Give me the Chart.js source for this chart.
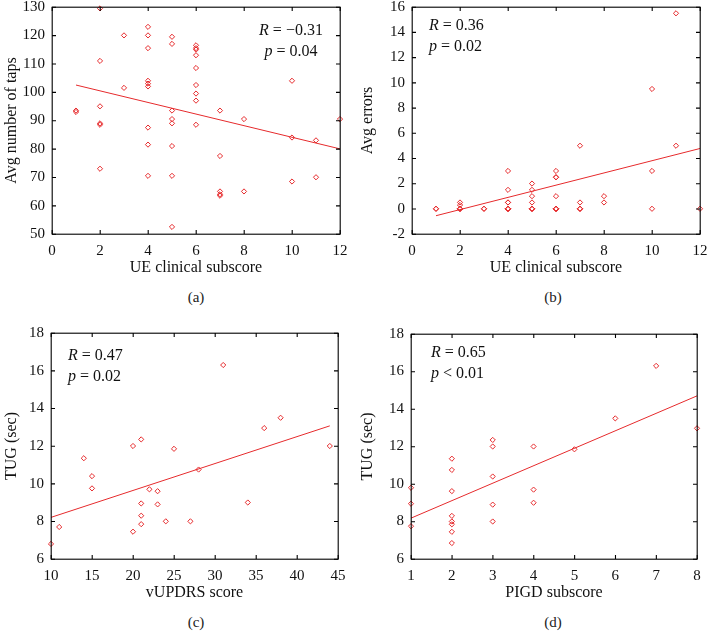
<!DOCTYPE html>
<html>
<head>
<meta charset="utf-8">
<script src="https://cdn.jsdelivr.net/npm/chart.js@4.4.0/dist/chart.umd.min.js"></script>
<style>
  body { margin: 0; background: #fff; width: 708px; height: 633px; position: relative; overflow: hidden; }
  canvas { position: absolute; }
  .cap { position: absolute; transform: translate(-50%, -50%); font-family: "Liberation Serif", serif; font-size: 15px; color: #222; }
</style>
</head>
<body>
<canvas id="cA" width="354" height="285" style="left:0;top:0"></canvas>
<canvas id="cB" width="354" height="285" style="left:354px;top:0"></canvas>
<canvas id="cC" width="354" height="285" style="left:0;top:326px"></canvas>
<canvas id="cD" width="354" height="285" style="left:354px;top:326px"></canvas>
<div class="cap" style="left:196px;top:297px">(a)</div>
<div class="cap" style="left:553px;top:297px">(b)</div>
<div class="cap" style="left:196px;top:622px">(c)</div>
<div class="cap" style="left:553px;top:622px">(d)</div>
<script>
// (a) UE clinical subscore vs avg number of taps
var ueX = [1, 1, 2, 2, 2, 2, 2, 2, 3, 3,
  4, 4, 4, 4, 4, 4, 4, 4, 4,
  5, 5, 5, 5, 5, 5, 5, 5,
  6, 6, 6, 6, 6, 6, 6, 6, 6,
  7, 7, 7, 7, 7, 8, 8, 10, 10, 10, 11, 11, 12];
var tapsY = [93.5, 93, 129.5, 111, 95, 89, 88.5, 73, 120, 101.5,
  123, 120, 115.5, 104, 103, 102, 87.5, 81.5, 70.5,
  119.5, 117, 93.5, 90.5, 89, 81, 70.5, 52.5,
  116.5, 115.5, 115, 113, 108.5, 102.5, 99.5, 97, 88.5,
  93.5, 77.5, 65, 64, 63.5, 90.5, 65, 104, 84, 68.5, 83, 70, 90.5];
var tapsFitX = [1, 12];
var tapsFitY = [102.5, 80];

// (b) UE clinical subscore vs avg errors
var errorsY = [0, 0, 0.5, 0.3, 0, 0, 0, 0, 0, 0,
  3, 1.5, 0.5, 0.5, 0, 0, 0, 0, 0,
  2, 1.5, 1, 0.5, 0, 0, 0, 0,
  3, 2.5, 2.5, 1, 0, 0, 0, 0, 0,
  5, 0.5, 0, 0, 0, 1, 0.5, 9.5, 3, 0, 15.5, 5, 0];
var errorsFitX = [1, 12];
var errorsFitY = [-0.55, 4.78];

// (c) vUPDRS score vs TUG
var updrsX = [10, 11, 14, 15, 15, 20, 20, 21, 21, 21, 21, 22, 23, 23, 24, 25, 27, 28, 31, 34, 36, 38, 44];
var tugC = [6.8, 7.7, 11.35, 10.4, 9.75, 12, 7.45, 12.35, 8.95, 8.3, 7.85, 9.7, 9.6, 8.9, 8.0, 11.85, 8.0, 10.75, 16.3, 9.0, 12.95, 13.5, 12.0];
var updrsFitX = [10, 44];
var updrsFitY = [8.21, 13.07];

// (d) PIGD subscore vs TUG
var pigdX = [1, 1, 1, 2, 2, 2, 2, 2, 2, 2, 2, 3, 3, 3, 3, 3, 4, 4, 4, 5, 6, 7, 8];
var tugD = [9.8, 8.95, 7.75, 11.35, 10.75, 9.62, 8.3, 8.0, 7.85, 7.45, 6.85, 12.35, 12.0, 10.4, 8.9, 8.0, 12.0, 9.7, 9.0, 11.85, 13.5, 16.3, 12.97];
var pigdFitX = [1, 8];
var pigdFitY = [8.18, 14.7];

var RED = "#e62a2c";
var SERIF = "'Liberation Serif', 'Times New Roman', serif";

function pares(xs, ys) {
  var out = [];
  for (var i = 0; i < xs.length; i++) out.push({x: xs[i], y: ys[i]});
  return out;
}

// frame with inward ticks (not pixel-snapped) and the R / p text
var moldura = {
  id: "moldura",
  afterDraw: function (chart) {
    var c = chart.ctx, a = chart.chartArea, t = 4;
    var sx = chart.scales.x, sy = chart.scales.y;
    c.save();
    c.setLineDash([]);
    c.strokeStyle = "#000";
    c.lineWidth = 1.1;
    c.strokeRect(a.left + 0.2, a.top + 0.2, a.right - a.left, a.bottom - a.top);
    c.beginPath();
    for (var i = 0; i < sx.ticks.length; i++) {
      var px = sx.getPixelForValue(sx.ticks[i].value) + 0.2;
      c.moveTo(px, a.bottom); c.lineTo(px, a.bottom - t);
      c.moveTo(px, a.top); c.lineTo(px, a.top + t);
    }
    for (var j = 0; j < sy.ticks.length; j++) {
      var py = sy.getPixelForValue(sy.ticks[j].value) + 0.2;
      c.moveTo(a.left, py); c.lineTo(a.left + t, py);
      c.moveTo(a.right, py); c.lineTo(a.right - t, py);
    }
    c.stroke();

    var o = chart.options.plugins.moldura;
    c.fillStyle = "#111";
    c.textBaseline = "middle";
    var linhas = [[o.letra1, o.resto1, o.dy1], [o.letra2, o.resto2, o.dy2]];
    for (var k = 0; k < linhas.length; k++) {
      var ln = linhas[k];
      c.font = "italic 16px " + SERIF;
      var w1 = c.measureText(ln[0]).width;
      c.font = "16px " + SERIF;
      var w2 = c.measureText(ln[1]).width;
      var x0 = a.left + o.dx;
      if (o.centro) x0 = a.left + o.dx - (w1 + w2) / 2;
      c.font = "italic 16px " + SERIF;
      c.fillText(ln[0], x0, a.top + ln[2]);
      c.font = "16px " + SERIF;
      c.fillText(ln[1], x0 + w1, a.top + ln[2]);
    }
    c.restore();
  }
};

function semPadding(s) {
  s.paddingTop = 0; s.paddingBottom = 0; s.paddingLeft = 0; s.paddingRight = 0;
}

function fixarTicks(lista) {
  return function (s) { s.ticks = lista.map(function (v) { return {value: v}; }); };
}

function montarGrafico(id, cfg) {
  var ctx = document.getElementById(id).getContext("2d");
  return new Chart(ctx, {
    type: "scatter",
    data: {
      datasets: [{
        data: pares(cfg.xs, cfg.ys),
        pointStyle: "rectRot",
        pointRadius: 2.6,
        pointHoverRadius: 2.6,
        borderColor: RED,
        backgroundColor: "rgba(0,0,0,0)",
        borderWidth: 1,
        clip: false
      }, {
        type: "line",
        data: pares(cfg.fitX, cfg.fitY),
        borderColor: RED,
        borderWidth: 1,
        pointRadius: 0,
        fill: false,
        clip: false
      }]
    },
    options: {
      responsive: false,
      animation: false,
      layout: { padding: { top: cfg.padTop, right: cfg.padRight, left: 0, bottom: 0 } },
      plugins: {
        legend: { display: false },
        tooltip: { enabled: false },
        moldura: cfg.anot
      },
      scales: {
        x: {
          type: "linear",
          min: cfg.xMin, max: cfg.xMax,
          afterFit: function (s) { s.height = cfg.xH; semPadding(s); },
          afterBuildTicks: fixarTicks(cfg.xTicks),
          grid: { display: false, drawTicks: false },
          border: { display: false },
          ticks: { color: "#111", padding: 8, maxRotation: 0, autoSkip: false, font: { family: SERIF, size: 15 } },
          title: { display: true, text: cfg.xTitle, color: "#111", padding: { top: 0, bottom: cfg.xTitlePad }, font: { family: SERIF, size: 16 } }
        },
        y: {
          type: "linear",
          min: cfg.yMin, max: cfg.yMax,
          afterFit: function (s) { s.width = cfg.yW; semPadding(s); },
          afterBuildTicks: fixarTicks(cfg.yTicks),
          grid: { display: false, drawTicks: false },
          border: { display: false },
          ticks: { color: "#111", padding: 7, autoSkip: false, font: { family: SERIF, size: 15 } },
          title: { display: true, text: cfg.yTitle, color: "#111", padding: { top: cfg.yTitlePad, bottom: 0 }, font: { family: SERIF, size: 16 } }
        }
      }
    },
    plugins: [moldura]
  });
}

window.onload = function () {
  montarGrafico("cA", {
    xs: ueX, ys: tapsY, fitX: tapsFitX, fitY: tapsFitY,
    xMin: 0, xMax: 12, xTicks: [0, 2, 4, 6, 8, 10, 12],
    yMin: 50, yMax: 130, yTicks: [50, 60, 70, 80, 90, 100, 110, 120, 130],
    xTitle: "UE clinical subscore", yTitle: "Avg number of taps",
    padTop: 7, padRight: 14, yW: 52, xH: 51, xTitlePad: 7.4, yTitlePad: 2.4,
    anot: { letra1: "R", resto1: " = \u22120.31", dy1: 24, letra2: "p", resto2: " = 0.04", dy2: 45, dx: 239, centro: true }
  });
  montarGrafico("cB", {
    xs: ueX, ys: errorsY, fitX: errorsFitX, fitY: errorsFitY,
    xMin: 0, xMax: 12, xTicks: [0, 2, 4, 6, 8, 10, 12],
    yMin: -2, yMax: 16, yTicks: [-2, 0, 2, 4, 6, 8, 10, 12, 14, 16],
    xTitle: "UE clinical subscore", yTitle: "Avg errors",
    padTop: 7, padRight: 8, yW: 58, xH: 51, xTitlePad: 7.4, yTitlePad: 4.4,
    anot: { letra1: "R", resto1: " = 0.36", dy1: 19, letra2: "p", resto2: " = 0.02", dy2: 40, dx: 17 }
  });
  montarGrafico("cC", {
    xs: updrsX, ys: tugC, fitX: updrsFitX, fitY: updrsFitY,
    xMin: 10, xMax: 45, xTicks: [10, 15, 20, 25, 30, 35, 40, 45],
    yMin: 6, yMax: 18, yTicks: [6, 8, 10, 12, 14, 16, 18],
    xTitle: "vUPDRS score", yTitle: "TUG (sec)",
    padTop: 7, padRight: 16, yW: 51, xH: 52, xTitlePad: 8.4, yTitlePad: 2.4,
    anot: { letra1: "R", resto1: " = 0.47", dy1: 23, letra2: "p", resto2: " = 0.02", dy2: 44, dx: 17 }
  });
  montarGrafico("cD", {
    xs: pigdX, ys: tugD, fitX: pigdFitX, fitY: pigdFitY,
    xMin: 1, xMax: 8, xTicks: [1, 2, 3, 4, 5, 6, 7, 8],
    yMin: 6, yMax: 18, yTicks: [6, 8, 10, 12, 14, 16, 18],
    xTitle: "PIGD subscore", yTitle: "TUG (sec)",
    padTop: 8, padRight: 11, yW: 57, xH: 52, xTitlePad: 8.4, yTitlePad: 4.4,
    anot: { letra1: "R", resto1: " = 0.65", dy1: 19, letra2: "p", resto2: " < 0.01", dy2: 40, dx: 20 }
  });
};
</script>
</body>
</html>
